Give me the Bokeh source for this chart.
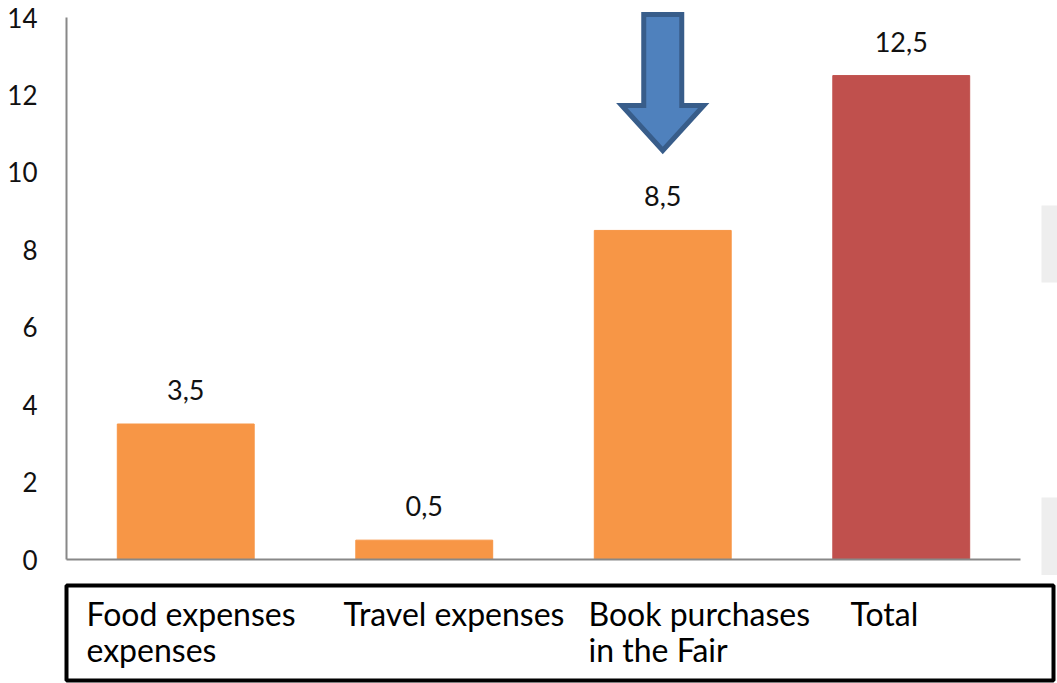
from bokeh.plotting import figure
from bokeh.layouts import column
from bokeh.models import ColumnDataSource, Range1d, FixedTicker
from bokeh.core.properties import value
from bokeh.embed import file_html
from bokeh.resources import INLINE

# ---- data ----
categories = ["Food expenses", "Travel expenses", "Book purchases", "Total"]
values = [3.5, 0.5, 8.5, 12.5]
bar_colors = ["#F79646", "#F79646", "#F79646", "#C0504D"]
label_line1 = ["Food expenses", "Travel expenses", "Book purchases", "Total"]
label_line2 = ["expenses", "", " in the Fair", ""]
y_ticks = [0, 2, 4, 6, 8, 10, 12, 14]
highlight = "Book purchases"

# ---- layout constants ----
FONT = "Lato"
W = 1057
TOP_H = 575
BOT_H = 108
UX = 238.5          # px per category
UY = 38.714         # px per value unit
LEFT = 62           # frame left px
ZERO_PX = 559       # pixel row of value 0

def dx(px):
    return (px - 66) / UX

def dy(py):
    return (ZERO_PX - py) / UY

xs = [i + 0.5 for i in range(len(categories))]
src = ColumnDataSource(dict(
    x=xs, top=values, color=bar_colors,
    label=[f"{v:g}".replace(".", ",") for v in values],
))

p = figure(width=W, height=TOP_H,
           x_range=Range1d(dx(LEFT), dx(W)),
           y_range=Range1d(dy(TOP_H), dy(0)),
           x_axis_location=None,
           output_backend="svg", toolbar_location=None,
           min_border_left=LEFT, min_border_right=0,
           min_border_top=0, min_border_bottom=0)
p.outline_line_color = None
p.grid.visible = False
p.background_fill_color = "white"
p.border_fill_color = "white"

ax = p.yaxis[0]
ax.ticker = FixedTicker(ticks=y_ticks)
ax.axis_line_color = None
ax.major_tick_line_color = None
ax.minor_tick_line_color = None
ax.major_tick_out = 0
ax.major_tick_in = 0
ax.minor_tick_out = 0
ax.major_label_standoff = LEFT - 37
ax.major_label_text_font = FONT
ax.major_label_text_font_size = "26px"
ax.major_label_text_color = "#111111"

# light slide artefacts at right edge
p.quad(left=[dx(1041), dx(1041)], right=[dx(1060), dx(1060)],
       top=[dy(205), dy(497)], bottom=[dy(282), dy(575)],
       fill_color="#EEEEEE", line_color=None)

# bars
p.vbar(x="x", top="top", bottom=0, width=0.574, color="color", source=src)

# axis lines
p.segment(x0=[0, 0], y0=[0, 0], x1=[len(categories), 0], y1=[0, max(y_ticks)],
          line_color="#888888", line_width=2)

# value labels
p.text(x="x", y="top", text="label", source=src, text_align="center",
       text_baseline="alphabetic", y_offset=-34,
       text_font=value(FONT), text_font_size="27px", text_color="#111111")

# arrow pointing at highlighted bar
j = categories.index(highlight)
cx = xs[j]
hw, sw = 41 / UX, 19 / UX
ytop, yshaft, ytip = dy(14), dy(105), dy(150)
p.patch(x=[cx - sw, cx + sw, cx + sw, cx + hw, cx, cx - hw, cx - sw, cx - sw],
        y=[ytop, ytop, yshaft, yshaft, ytip, yshaft, yshaft, ytop],
        fill_color="#4F81BD", line_color="#385D8A", line_width=5,
        line_join="miter")

# ---- category box below ----
q = figure(width=W, height=BOT_H, x_range=Range1d(LEFT, W), y_range=Range1d(BOT_H, 0),
           x_axis_location=None, y_axis_location=None,
           output_backend="svg", toolbar_location=None,
           min_border_left=LEFT, min_border_right=0, min_border_top=0, min_border_bottom=0)
q.outline_line_color = None
q.grid.visible = False

q.quad(left=[66], right=[1053], top=[10], bottom=[105],
       fill_color=None, line_color="black", line_width=4)
lx1 = [86, 343, 588, 850]
q.text(x=lx1, y=[38] * 4, text=label_line1, text_baseline="alphabetic",
       text_font=value(FONT), text_font_size="32px", text_color="black")
q.text(x=lx1, y=[74] * 4, text=label_line2, text_baseline="alphabetic",
       text_font=value(FONT), text_font_size="32px", text_color="black")

layout = column(p, q, spacing=0)
open("out.html", "w").write(file_html(layout, INLINE))
